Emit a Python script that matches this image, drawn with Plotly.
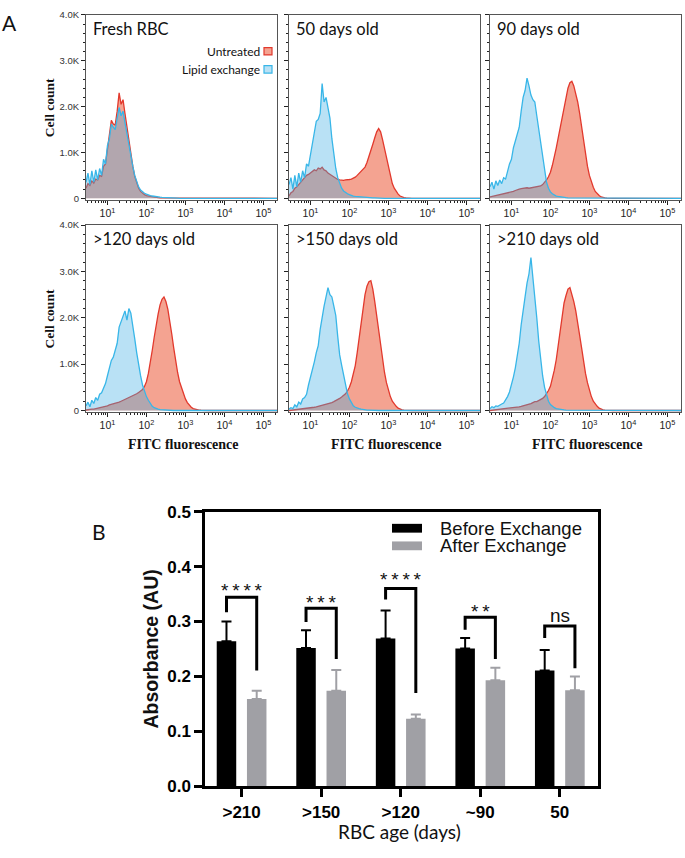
import plotly.graph_objects as go

W, H = 685, 858


def px(x):
    return x / W


def py(y):
    return 1 - y / H


# ---------------- Panel A data (counts in thousands) ----------------
# log10 FITC bin centres: 0.45 ... 3.60 in 0.05 steps, plus an empty tail bin
fluor_log = [round(0.45 + 0.05 * i, 2) for i in range(64)] + [5.35]
fluor = [10 ** v for v in fluor_log]

fresh_untreated = [
    0.22, 0.32, 0.28, 0.38, 0.33, 0.42, 0.40, 0.50,
    0.48, 0.70, 0.75, 1.05, 1.35, 1.70, 1.62, 1.60,
    1.90, 2.30, 2.05, 2.15, 1.85, 1.55, 1.30, 1.00,
    0.70, 0.48, 0.32, 0.22, 0.15, 0.11, 0.08, 0.06,
    0.05, 0.04, 0.03, 0.025, 0.02, 0.015, 0.01, 0.01,
    0.005, 0.005, 0.005, 0.005, 0.005, 0.005, 0.005, 0.005,
    0, 0, 0, 0, 0, 0, 0, 0,
    0, 0, 0, 0, 0, 0, 0, 0, 0]
fresh_lipid = [
    0.35, 0.55, 0.30, 0.60, 0.35, 0.62, 0.40, 0.65,
    0.50, 0.85, 0.75, 1.15, 1.30, 1.62, 1.55, 1.50,
    1.75, 1.98, 1.80, 1.90, 1.65, 1.40, 1.20, 0.95,
    0.70, 0.50, 0.35, 0.25, 0.18, 0.14, 0.11, 0.09,
    0.07, 0.06, 0.05, 0.04, 0.035, 0.03, 0.025, 0.02,
    0.02, 0.015, 0.015, 0.01, 0.01, 0.01, 0.005, 0.005,
    0, 0, 0, 0, 0, 0, 0, 0,
    0, 0, 0, 0, 0, 0, 0, 0, 0]

d50_untreated = [
    0.05, 0.12, 0.15, 0.22, 0.25, 0.30, 0.35, 0.40,
    0.45, 0.50, 0.52, 0.55, 0.58, 0.62, 0.60, 0.66,
    0.64, 0.68, 0.62, 0.60, 0.55, 0.52, 0.48, 0.45,
    0.43, 0.41, 0.40, 0.39, 0.39, 0.40, 0.40, 0.41,
    0.42, 0.44, 0.46, 0.50, 0.54, 0.58, 0.62, 0.68,
    0.78, 0.90, 1.02, 1.18, 1.32, 1.45, 1.52, 1.45,
    1.28, 1.08, 0.88, 0.65, 0.45, 0.32, 0.22, 0.15,
    0.09, 0.05, 0.03, 0.015, 0.01, 0.005, 0, 0, 0]
d50_lipid = [
    0.30, 0.45, 0.20, 0.50, 0.25, 0.55, 0.35, 0.60,
    0.45, 0.75, 0.70, 0.95, 1.25, 1.45, 1.68, 1.72,
    1.85, 2.50, 2.10, 2.20, 2.00, 1.75, 1.30, 0.90,
    0.65, 0.45, 0.32, 0.22, 0.16, 0.12, 0.10, 0.08,
    0.06, 0.05, 0.04, 0.035, 0.03, 0.025, 0.02, 0.02,
    0.015, 0.015, 0.01, 0.01, 0.01, 0.005, 0.005, 0.005,
    0, 0, 0, 0, 0, 0, 0, 0,
    0, 0, 0, 0, 0, 0, 0, 0, 0]

d90_untreated = [
    0.03, 0.04, 0.05, 0.06, 0.07, 0.08, 0.09, 0.10,
    0.10, 0.11, 0.12, 0.13, 0.15, 0.17, 0.19, 0.20,
    0.21, 0.22, 0.22, 0.23, 0.22, 0.23, 0.24, 0.25,
    0.25, 0.26, 0.27, 0.30, 0.34, 0.40, 0.47, 0.57,
    0.72, 0.88, 1.10, 1.32, 1.55, 1.78, 2.00, 2.22,
    2.40, 2.52, 2.55, 2.45, 2.30, 2.10, 1.85, 1.55,
    1.22, 0.95, 0.70, 0.50, 0.35, 0.24, 0.15, 0.10,
    0.06, 0.03, 0.015, 0.01, 0.005, 0, 0, 0, 0]
d90_lipid = [
    0.25, 0.35, 0.20, 0.38, 0.28, 0.40, 0.32, 0.45,
    0.42, 0.60, 0.75, 0.85, 1.10, 1.25, 1.40, 1.55,
    1.90, 2.20, 2.35, 2.62, 2.45, 2.25, 2.15, 2.10,
    1.80, 1.50, 1.15, 0.85, 0.55, 0.35, 0.22, 0.14,
    0.10, 0.07, 0.05, 0.04, 0.03, 0.025, 0.02, 0.015,
    0.01, 0.01, 0.01, 0.005, 0.005, 0.005, 0, 0,
    0, 0, 0, 0, 0, 0, 0, 0,
    0, 0, 0, 0, 0, 0, 0, 0, 0]

d120_untreated = [
    0.01, 0.02, 0.02, 0.03, 0.03, 0.04, 0.05, 0.05,
    0.06, 0.08, 0.09, 0.10, 0.12, 0.13, 0.15, 0.16,
    0.17, 0.18, 0.20, 0.22, 0.23, 0.25, 0.27, 0.29,
    0.31, 0.33, 0.36, 0.39, 0.42, 0.45, 0.52, 0.62,
    0.80, 1.02, 1.30, 1.58, 1.85, 2.08, 2.28, 2.40,
    2.45, 2.35, 2.18, 1.95, 1.65, 1.35, 1.05, 0.82,
    0.62, 0.48, 0.35, 0.25, 0.17, 0.11, 0.07, 0.04,
    0.025, 0.015, 0.01, 0.005, 0, 0, 0, 0, 0]
d120_lipid = [
    0.10, 0.18, 0.08, 0.22, 0.15, 0.28, 0.22, 0.35,
    0.38, 0.48, 0.58, 0.75, 0.95, 1.08, 1.15, 1.28,
    1.45, 1.80, 1.92, 2.05, 2.15, 1.95, 2.20, 2.10,
    1.85, 1.55, 1.25, 0.98, 0.75, 0.55, 0.42, 0.30,
    0.22, 0.14, 0.09, 0.06, 0.04, 0.03, 0.02, 0.015,
    0.01, 0.01, 0.005, 0.005, 0, 0, 0, 0,
    0, 0, 0, 0, 0, 0, 0, 0,
    0, 0, 0, 0, 0, 0, 0, 0, 0]

d150_untreated = [
    0, 0.005, 0.01, 0.01, 0.015, 0.02, 0.02, 0.03,
    0.03, 0.04, 0.05, 0.05, 0.06, 0.07, 0.08, 0.09,
    0.10, 0.11, 0.12, 0.13, 0.14, 0.15, 0.17, 0.19,
    0.21, 0.23, 0.26, 0.29, 0.32, 0.36, 0.42, 0.50,
    0.62, 0.78, 0.97, 1.25, 1.58, 1.90, 2.22, 2.50,
    2.68, 2.78, 2.80, 2.62, 2.35, 2.05, 1.72, 1.38,
    1.08, 0.82, 0.60, 0.43, 0.30, 0.20, 0.13, 0.09,
    0.05, 0.03, 0.015, 0.01, 0.005, 0, 0, 0, 0]
d150_lipid = [
    0.03, 0.06, 0.04, 0.12, 0.08, 0.18, 0.14, 0.25,
    0.28, 0.35, 0.55, 0.70, 0.85, 1.05, 1.25, 1.40,
    1.75, 2.05, 2.25, 2.45, 2.65, 2.50, 2.45, 2.25,
    2.05, 1.60, 1.20, 0.98, 0.78, 0.52, 0.36, 0.25,
    0.17, 0.10, 0.07, 0.05, 0.04, 0.03, 0.02, 0.015,
    0.01, 0.01, 0.005, 0.005, 0, 0, 0, 0,
    0, 0, 0, 0, 0, 0, 0, 0,
    0, 0, 0, 0, 0, 0, 0, 0, 0]

d210_untreated = [
    0, 0.005, 0.01, 0.01, 0.015, 0.02, 0.02, 0.025,
    0.03, 0.035, 0.04, 0.045, 0.05, 0.06, 0.07, 0.08,
    0.09, 0.10, 0.11, 0.12, 0.13, 0.15, 0.17, 0.19,
    0.19, 0.21, 0.23, 0.26, 0.30, 0.36, 0.43, 0.52,
    0.68, 0.87, 1.10, 1.40, 1.75, 2.05, 2.32, 2.48,
    2.62, 2.65, 2.52, 2.35, 2.15, 1.92, 1.62, 1.35,
    1.05, 0.80, 0.60, 0.42, 0.30, 0.20, 0.13, 0.09,
    0.05, 0.03, 0.015, 0.01, 0.005, 0, 0, 0, 0]
d210_lipid = [
    0.04, 0.08, 0.06, 0.10, 0.09, 0.12, 0.14, 0.16,
    0.22, 0.30, 0.40, 0.55, 0.72, 0.92, 1.15, 1.45,
    1.85, 2.20, 2.45, 2.75, 2.95, 3.30, 2.90, 2.40,
    2.00, 1.50, 1.10, 0.75, 0.50, 0.32, 0.20, 0.13,
    0.09, 0.06, 0.04, 0.03, 0.025, 0.02, 0.015, 0.01,
    0.01, 0.005, 0.005, 0, 0, 0, 0, 0,
    0, 0, 0, 0, 0, 0, 0, 0,
    0, 0, 0, 0, 0, 0, 0, 0, 0]

panel_titles = ["Fresh RBC", "50 days old", "90 days old",
                ">120 days old", ">150 days old", ">210 days old"]
untreated_series = [fresh_untreated, d50_untreated, d90_untreated,
                    d120_untreated, d150_untreated, d210_untreated]
lipid_series = [fresh_lipid, d50_lipid, d90_lipid,
                d120_lipid, d150_lipid, d210_lipid]

hist_tickvals = [1e1, 1e2, 1e3, 1e4, 1e5]
hist_ticktext = ["10<sup>1</sup>", "10<sup>2</sup>", "10<sup>3</sup>",
                 "10<sup>4</sup>", "10<sup>5</sup>"]
count_tickvals = [0, 1, 2, 3, 4]
count_ticktext = ["0", "1.0K", "2.0K", "3.0K", "4.0K"]

# ---------------- Panel B data ----------------
age_categories = [">210", ">150", ">120", "~90", "50"]
before_exchange = [0.264, 0.252, 0.269, 0.251, 0.211]
before_err = [0.036, 0.032, 0.051, 0.019, 0.037]
after_exchange = [0.159, 0.174, 0.123, 0.193, 0.175]
after_err = [0.015, 0.038, 0.008, 0.023, 0.025]
sig_labels = ["****", "***", "****", "**", "ns"]
bracket_top = [0.344, 0.324, 0.360, 0.308, 0.292]
bracket_left_end = [0.317, 0.299, 0.340, 0.285, 0.270]
bracket_right_end = [0.211, 0.232, 0.170, 0.232, 0.215]
sig_label_y = [0.359, 0.336, 0.378, 0.320, 0.313]

# ---------------- styles ----------------
RED_LINE = "#e2392d"
SALMON = "#f4a391"
BLUE_LINE = "#38b6e8"
BLUE_FILL = "rgba(60,172,228,0.36)"
BLUE_SWATCH = "#b9e1f5"
GREY_BAR = "#a0a0a5"
SANS = "Liberation Sans, Arial, sans-serif"
SERIF = "Liberation Serif, Times New Roman, serif"
CAL = "Lato, Carlito, sans-serif"

cols = [(86, 277), (289, 480), (490, 681)]
rows = [(6, 195), (221, 412)]

fig = go.Figure()
layout = {}
annotations = []
shapes = []


def note(x, y, text, size, family, xanchor="center", yanchor="middle", **kw):
    d = dict(x=px(x), y=py(y), xref="paper", yref="paper", text=text,
             showarrow=False, xanchor=xanchor, yanchor=yanchor,
             font=dict(family=family, size=size, color="#111"))
    d.update(kw)
    annotations.append(d)


minor_log_ticks = [m * 10 ** e for e in range(0, 6) for m in range(2, 10)]

for k in range(6):
    r, c = divmod(k, 3)
    n = k + 1
    xname = "x" if n == 1 else f"x{n}"
    yname = "y" if n == 1 else f"y{n}"
    xkey = "xaxis" if n == 1 else f"xaxis{n}"
    ykey = "yaxis" if n == 1 else f"yaxis{n}"
    fig.add_trace(go.Scatter(
        x=fluor, y=untreated_series[k], mode="lines",
        line=dict(color=RED_LINE, width=1.3),
        fill="tozeroy", fillcolor=SALMON,
        xaxis=xname, yaxis=yname, name="Untreated", showlegend=False))
    fig.add_trace(go.Scatter(
        x=fluor, y=lipid_series[k], mode="lines",
        line=dict(color=BLUE_LINE, width=1.3),
        fill="tozeroy", fillcolor=BLUE_FILL,
        xaxis=xname, yaxis=yname, name="Lipid exchange", showlegend=False))
    layout[xkey] = dict(
        domain=[px(cols[c][0]), px(cols[c][1])], anchor=yname,
        type="log", range=[0.45, 5.35],
        tickmode="array", tickvals=hist_tickvals, ticktext=hist_ticktext,
        tickfont=dict(family=SANS, size=10.5, color="#222"),
        ticks="outside", ticklen=4, tickwidth=1, tickcolor="#222",
        minor=dict(tickmode="array", tickvals=minor_log_ticks,
                   ticks="outside", ticklen=2, tickwidth=1, tickcolor="#222",
                   showgrid=False),
        showline=True, linecolor="#555", linewidth=1, mirror=True,
        showgrid=False, zeroline=False)
    layout[ykey] = dict(
        domain=[py(rows[r][1]), py(rows[r][0])], anchor=xname,
        range=[-0.03, 4.0],
        tickmode="array", tickvals=count_tickvals, ticktext=count_ticktext,
        showticklabels=(c == 0),
        tickfont=dict(family=SANS, size=9.5, color="#333"),
        ticks="outside", ticklen=4, tickwidth=1.2, tickcolor="#222",
        minor=dict(dtick=0.2, ticks="outside", ticklen=2, tickwidth=1,
                   tickcolor="#222", showgrid=False),
        showline=True, linecolor="#555", linewidth=1, mirror=True,
        showgrid=False, zeroline=False)
    note(cols[c][0] + 5, rows[r][0] + 14, panel_titles[k], 16.5, CAL, xanchor="left")
    if c == 0:
        note(49, (rows[r][0] + rows[r][1]) / 2, "<b>Cell count</b>", 13.5, SERIF,
             textangle=-90)
    if r == 1:
        note((cols[c][0] + cols[c][1]) / 2 + 2, 445, "<b>FITC fluorescence</b>", 14, SERIF)

# legend of panel A (drawn inside the first histogram)
note(262, 43.5, "Untreated", 12, CAL, xanchor="right")
note(262, 62, "Lipid exchange", 12, CAL, xanchor="right")
shapes.append(dict(type="rect", xref="paper", yref="paper",
                   x0=px(264), x1=px(272), y0=py(47), y1=py(39.5),
                   fillcolor=SALMON, line=dict(color=RED_LINE, width=1.2)))
shapes.append(dict(type="rect", xref="paper", yref="paper",
                   x0=px(264), x1=px(272), y0=py(65.5), y1=py(58),
                   fillcolor=BLUE_SWATCH, line=dict(color=BLUE_LINE, width=1.2)))

note(9, 14, "A", 21, CAL)
note(99, 534, "B", 21, CAL)

# ---------------- Panel B ----------------
cat_pos = list(range(len(age_categories)))
bargap = 0.24
half_offset = (1 - bargap) / 4

fig.add_trace(go.Bar(
    x=cat_pos, y=before_exchange, name="Before Exchange",
    marker=dict(color="black", line=dict(width=0)),
    error_y=dict(type="data", array=before_err, arrayminus=[0] * len(before_err),
                 symmetric=False, color="black", thickness=2, width=5),
    xaxis="x7", yaxis="y7", showlegend=False))
fig.add_trace(go.Bar(
    x=cat_pos, y=after_exchange, name="After Exchange",
    marker=dict(color=GREY_BAR, line=dict(width=0)),
    error_y=dict(type="data", array=after_err, arrayminus=[0] * len(after_err),
                 symmetric=False, color=GREY_BAR, thickness=2, width=5),
    xaxis="x7", yaxis="y7", showlegend=False))

bx, by = [], []
for i in cat_pos:
    xl, xr = i - half_offset, i + half_offset
    bx += [xl, xl, xr, xr, None]
    by += [bracket_left_end[i], bracket_top[i], bracket_top[i], bracket_right_end[i], None]
fig.add_trace(go.Scatter(x=bx, y=by, mode="lines", line=dict(color="black", width=3),
                         xaxis="x7", yaxis="y7", showlegend=False, hoverinfo="skip"))

for i in cat_pos:
    lab = sig_labels[i]
    if lab == "ns":
        annotations.append(dict(x=i, y=sig_label_y[i], xref="x7", yref="y7", text="ns",
                                showarrow=False, xanchor="center", yanchor="middle",
                                yshift=-1, font=dict(family=SANS, size=19, color="#111")))
    else:
        annotations.append(dict(x=i, y=sig_label_y[i], xref="x7", yref="y7",
                                text="\u2009".join(lab), showarrow=False,
                                xanchor="center", yanchor="middle", yshift=-1,
                                font=dict(family=SANS, size=19, color="#111")))

layout["xaxis7"] = dict(
    domain=[px(205), px(598)], anchor="y7", range=[-0.46, 4.48],
    tickmode="array", tickvals=cat_pos, ticktext=age_categories,
    tickfont=dict(family=SANS, size=17, color="black", weight="bold"),
    ticks="outside", ticklen=8, tickwidth=2.5, tickcolor="black",
    showline=True, linecolor="black", linewidth=2.5, mirror=True,
    showgrid=False, zeroline=False)
layout["yaxis7"] = dict(
    domain=[py(795), py(514)], anchor="x7", range=[0, 0.5],
    tickmode="linear", tick0=0, dtick=0.1, tickformat=".1f",
    tickfont=dict(family=SANS, size=17, color="black", weight="bold"),
    ticks="outside", ticklen=8, tickwidth=2.5, tickcolor="black",
    showline=True, linecolor="black", linewidth=2.5, mirror=True,
    showgrid=False, zeroline=False)

note(151, 655, "<b>Absorbance (AU)</b>", 19.5, SANS, textangle=-90)
note(399, 841, "RBC age (days)", 19, CAL)

# legend of panel B
shapes.append(dict(type="rect", xref="paper", yref="paper",
                   x0=px(392), x1=px(422), y0=py(535.5), y1=py(526.5),
                   fillcolor="black", line=dict(width=0)))
shapes.append(dict(type="rect", xref="paper", yref="paper",
                   x0=px(392), x1=px(422), y0=py(553.5), y1=py(544.5),
                   fillcolor=GREY_BAR, line=dict(width=0)))
note(438, 531, "Before Exchange", 18.5, SANS, xanchor="left")
note(438, 549, "After Exchange", 18.5, SANS, xanchor="left")

fig.update_layout(
    width=W, height=H, autosize=False,
    margin=dict(l=0, r=0, t=0, b=0, pad=0),
    paper_bgcolor="white", plot_bgcolor="white",
    showlegend=False, barmode="group", bargap=bargap, bargroupgap=0.355,
    annotations=annotations, shapes=shapes,
    **layout)

fig.write_html("out.html",
               config={"displayModeBar": False},
               post_script="document.body.style.margin='0px';")
